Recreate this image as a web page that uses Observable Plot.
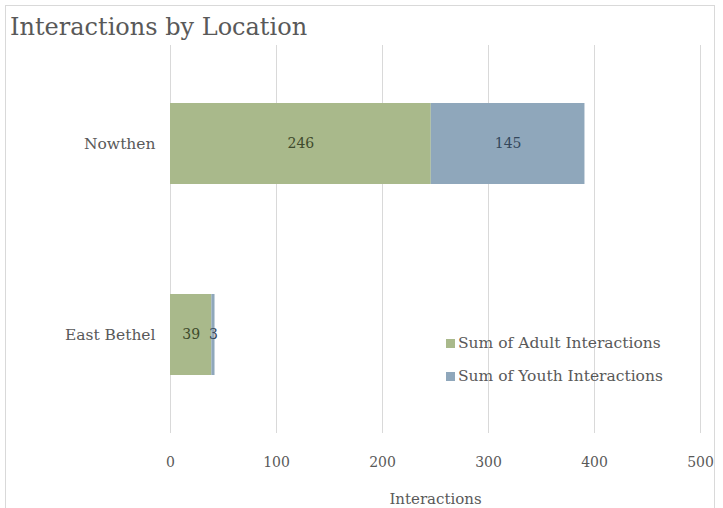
<!DOCTYPE html>
<html><head><meta charset="utf-8">
<script src="https://cdn.jsdelivr.net/npm/d3@7"></script>
<script src="https://cdn.jsdelivr.net/npm/@observablehq/plot@0.6"></script>
<style>
body{margin:0;background:#fff;}
#wrap{position:relative;width:723px;height:508px;overflow:hidden;font-family:"DejaVu Serif",serif;}
#frame{position:absolute;left:5px;top:5px;width:710px;height:510px;border:1px solid #d9d9d9;box-sizing:border-box;pointer-events:none;}
#title{height:45px;box-sizing:border-box;padding:14px 0 0 10px;font-size:24px;color:#595959;line-height:27px;white-space:nowrap;}
#legend{position:absolute;left:446px;top:333px;font-size:15.5px;color:#595959;}
#legend div{height:33px;line-height:20px;white-space:nowrap;}
#legend span{display:inline-block;width:9px;height:9px;margin-right:3px;vertical-align:0px;}
</style></head>
<body>
<div id="wrap">
<div id="frame"></div>
<div id="title">Interactions by Location</div>
<div id="chart"></div>
<div id="legend"></div>
</div>
<script>
const locations = ["Nowthen", "East Bethel"];
const seriesNames = ["Sum of Adult Interactions", "Sum of Youth Interactions"];
const adultValues = [246, 39];
const youthValues = [145, 3];
const xTicks = [0, 100, 200, 300, 400, 500];
const colors = ["#a9b98b", "#8fa7bb"];
const labelColors = ["#3e4a2c", "#34475b"];

const data = [];
locations.forEach((loc, i) => {
  data.push({loc, series: seriesNames[0], value: adultValues[i]});
  data.push({loc, series: seriesNames[1], value: youthValues[i]});
});

const plot = Plot.plot({
  width: 723,
  height: 463,
  marginLeft: 170,
  marginRight: 23,
  marginTop: 0,
  marginBottom: 75,
  style: {fontFamily: "DejaVu Serif, serif", fontSize: "14px", color: "#595959", background: "transparent"},
  x: {domain: [0, 500], ticks: xTicks, grid: false, label: null},
  y: {domain: locations, paddingInner: 0.577, paddingOuter: 0.3, label: null},
  color: {domain: seriesNames, range: colors},
  marks: [
    Plot.ruleX(xTicks, {stroke: "#d9d9d9", strokeWidth: 1}),
    Plot.barX(data, {x: "value", y: "loc", fill: "series", order: seriesNames}),
    Plot.text(data, Plot.stackX({x: "value", y: "loc", z: "series", order: seriesNames, text: d => String(d.value),
      fill: d => labelColors[seriesNames.indexOf(d.series)], fontSize: 14})),
    Plot.axisX({ticks: xTicks, tickSize: 0, tickPadding: 24, fontSize: 14, label: null, fill: "#595959"}),
    Plot.axisY({tickSize: 0, tickPadding: 15, fontSize: 15.5, label: null, fill: "#595959"}),
    Plot.text(["Interactions"], {frameAnchor: "bottom", dy: 70, fontSize: 15, fill: "#595959"})
  ]
});
document.getElementById("chart").appendChild(plot);

const legend = document.getElementById("legend");
seriesNames.forEach((s, i) => {
  const row = document.createElement("div");
  const sw = document.createElement("span");
  sw.style.background = colors[i];
  row.appendChild(sw);
  row.appendChild(document.createTextNode(s));
  legend.appendChild(row);
});
</script>
</body></html>
